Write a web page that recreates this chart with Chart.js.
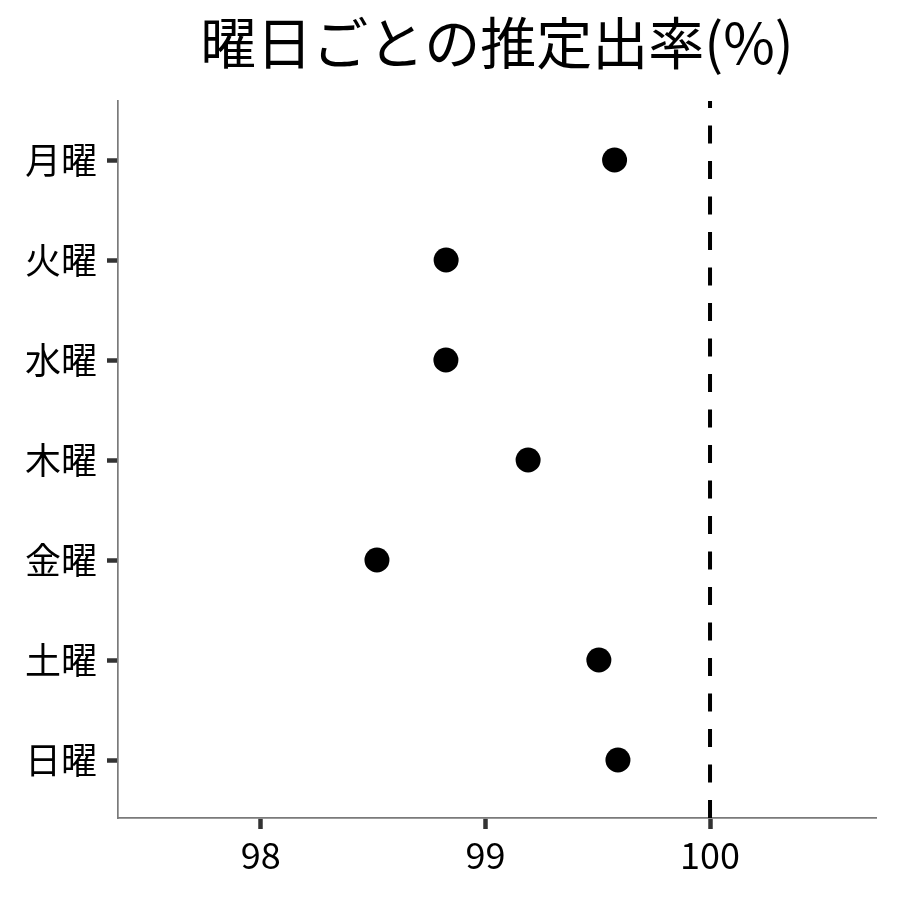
<!DOCTYPE html>
<html>
<head>
<meta charset="utf-8">
<script src="https://cdn.jsdelivr.net/npm/chart.js@4"></script>
<style>
  body { margin: 0; background: #fff; }
  #wrap { width: 900px; height: 900px; }
</style>
</head>
<body>
<div id="wrap"><canvas id="rateChart" width="900" height="900"></canvas></div>
<script>
// data
const days = ["月曜", "火曜", "水曜", "木曜", "金曜", "土曜", "日曜"];
const rates = [99.575, 98.825, 98.824, 99.19, 98.517, 99.505, 99.59];
const xTicks = [98, 99, 100];
const refValue = 100;
const chartTitle = "曜日ごとの推定出率(%)";

const FONT = "'Noto Sans CJK JP', 'Noto Sans', sans-serif";
const yMin = -0.59;
const yMax = 6.58;

// title centred over the panel like ggplot does
const panelTitle = {
  id: "panelTitle",
  afterDraw(chart) {
    const { ctx, chartArea } = chart;
    ctx.save();
    ctx.font = "56px " + FONT;
    ctx.fillStyle = "#000";
    ctx.textAlign = "center";
    ctx.textBaseline = "middle";
    ctx.fillText(chartTitle, (chartArea.left + chartArea.right) / 2, 43);
    ctx.restore();
  },
};

document.addEventListener("DOMContentLoaded", function () {
  const ctx = document.getElementById("rateChart").getContext("2d");
  new Chart(ctx, {
    type: "scatter",
    data: {
      datasets: [
        {
          label: "rate",
          data: rates.map((v, i) => ({ x: v, y: i })),
          backgroundColor: "#000",
          borderWidth: 0,
          pointRadius: 12.5,
        },
        {
          type: "line",
          label: "ref",
          data: [
            { x: refValue, y: yMax },
            { x: refValue, y: yMin },
          ],
          borderColor: "#000",
          borderWidth: 4,
          borderDash: [18, 17.5],
          pointRadius: 0,
          fill: false,
        },
      ],
    },
    plugins: [panelTitle],
    options: {
      responsive: false,
      animation: false,
      layout: { padding: { top: 101, right: 24, left: 0, bottom: 0 } },
      plugins: {
        legend: { display: false },
        tooltip: { enabled: false },
        title: { display: false },
      },
      scales: {
        x: {
          type: "linear",
          min: 97.364,
          max: 100.739,
          afterBuildTicks: (scale) => {
            scale.ticks = xTicks.map((v) => ({ value: v }));
          },
          afterFit: (scale) => {
            scale.height = 82;
          },
          border: { display: true, color: "#7a7a7a", width: 1.7 },
          grid: {
            drawOnChartArea: false,
            drawTicks: true,
            tickLength: 11,
            tickColor: "#333",
            tickWidth: 4.5,
          },
          ticks: {
            color: "#000",
            padding: 5,
            font: { family: FONT, size: 36 },
            maxRotation: 0,
          },
        },
        y: {
          type: "linear",
          reverse: true,
          min: yMin,
          max: yMax,
          afterBuildTicks: (scale) => {
            scale.ticks = days.map((d, i) => ({ value: i }));
          },
          afterFit: (scale) => {
            scale.width = 118;
          },
          border: { display: true, color: "#7a7a7a", width: 1.7 },
          grid: {
            drawOnChartArea: false,
            drawTicks: true,
            tickLength: 11,
            tickColor: "#333",
            tickWidth: 4.5,
          },
          ticks: {
            color: "#000",
            padding: 10,
            font: { family: FONT, size: 36 },
            callback: function (value) {
              return days[value];
            },
          },
        },
      },
    },
  });
});
</script>
</body>
</html>
